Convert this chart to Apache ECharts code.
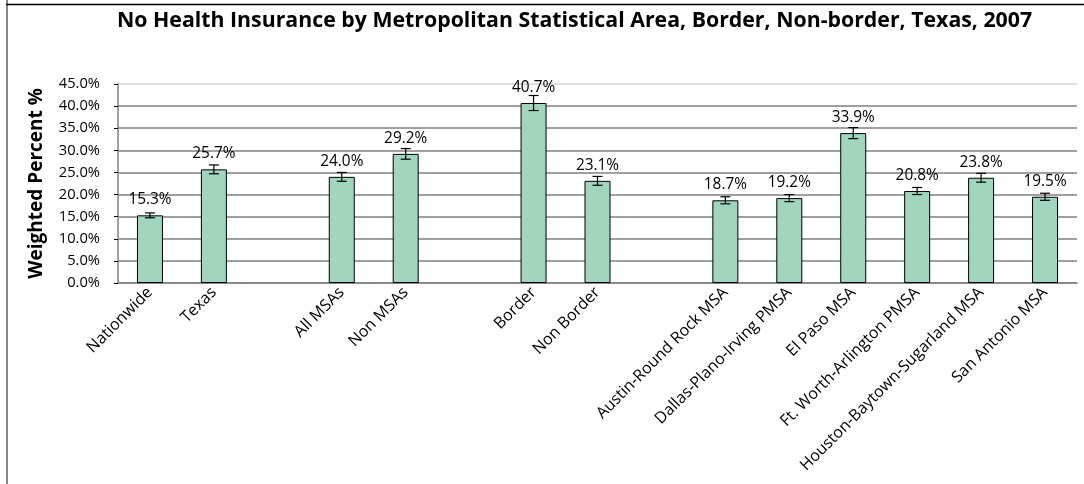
<!DOCTYPE html>
<html>
<head>
<meta charset="utf-8">
<script src="https://cdn.jsdelivr.net/npm/echarts@6/dist/echarts.min.js"></script>
<style>
  html, body { margin: 0; padding: 0; background: #fff; }
  #main { width: 1084px; height: 484px; }
</style>
</head>
<body>
<div id="main"></div>
<script>
// categories, blanks are the gaps between groups
const categories = [
  'Nationwide', 'Texas', '',
  'All MSAs', 'Non MSAs', '',
  'Border', 'Non Border', '',
  'Austin-Round Rock MSA', 'Dallas-Plano-Irving PMSA', 'El Paso MSA',
  'Ft. Worth-Arlington PMSA', 'Houston-Baytown-Sugarland MSA', 'San Antonio MSA'
]
const percents = [15.3, 25.7, null, 24.0, 29.2, null, 40.7, 23.1, null, 18.7, 19.2, 33.9, 20.8, 23.8, 19.5]
// half width of the error bars (percent points)
const errors = [0.55, 1.0, null, 1.0, 1.2, null, 1.7, 1.0, null, 0.8, 0.8, 1.25, 0.8, 1.0, 0.8]
const yTicks = { min: 0, max: 45, interval: 5 }

const font = '"Open Sans", sans-serif'
const chart = echarts.init(document.getElementById('main'))

const errData = percents.map((v, i) => v == null ? null : [i, v - errors[i], v + errors[i]]).filter(d => d)
// gridlines are grey, the top one is lighter
const gridColors = []
for (let v = yTicks.min; v < yTicks.max; v += yTicks.interval) gridColors.push('#808080')
gridColors.push('#d4d4d4')

chart.setOption({
  animation: false,
  textStyle: { fontFamily: font },
  graphic: [
    { type: 'line', shape: { x1: 7, y1: 0, x2: 7, y2: 484 }, style: { stroke: '#888', lineWidth: 2 } },
    { type: 'line', shape: { x1: 6, y1: 4.5, x2: 1084, y2: 4.5 }, style: { stroke: '#000', lineWidth: 1.5 } },
    {
      type: 'text', left: 117, top: 10,
      style: {
        text: 'No Health Insurance by Metropolitan Statistical Area, Border, Non-border, Texas, 2007',
        font: 'bold 21.3px ' + font, fill: '#000'
      }
    }
  ],
  grid: { left: 118, right: 7, top: 84, bottom: 201, containLabel: false },
  xAxis: {
    type: 'category',
    data: categories,
    axisLine: { lineStyle: { color: '#808080', width: 1.5 } },
    axisTick: { length: 4, lineStyle: { color: '#000' } },
    axisLabel: { rotate: 45, interval: 0, fontSize: 16, color: '#000', margin: 7 }
  },
  yAxis: {
    type: 'value',
    min: yTicks.min, max: yTicks.max, interval: yTicks.interval,
    name: 'Weighted Percent %',
    nameLocation: 'middle',
    nameGap: 72,
    nameTextStyle: { fontSize: 19, fontWeight: 'bold', color: '#000' },
    axisLine: { show: true, lineStyle: { color: '#808080', width: 1.5 } },
    axisTick: { show: true, length: 4, lineStyle: { color: '#000' } },
    axisLabel: { fontSize: 14.7, color: '#000', margin: 18, formatter: v => v.toFixed(1) + '%' },
    splitLine: { lineStyle: { color: gridColors, width: 1.5 } }
  },
  series: [
    {
      type: 'bar',
      data: percents,
      barWidth: 26,
      itemStyle: { color: '#a0d6bd', borderColor: '#000', borderWidth: 1 },
      label: {
        show: true, position: 'top', distance: 8, fontSize: 15.4, color: '#000',
        formatter: p => p.value.toFixed(1) + '%'
      }
    },
    {
      type: 'custom',
      data: errData,
      z: 10,
      renderItem: function (params, api) {
        const x = api.value(0)
        const lo = api.coord([x, api.value(1)])
        const hi = api.coord([x, api.value(2)])
        const cap = 5
        const st = { stroke: '#000', lineWidth: 1.2 }
        return {
          type: 'group',
          children: [
            { type: 'line', shape: { x1: lo[0], y1: lo[1], x2: hi[0], y2: hi[1] }, style: st },
            { type: 'line', shape: { x1: lo[0] - cap, y1: lo[1], x2: lo[0] + cap, y2: lo[1] }, style: st },
            { type: 'line', shape: { x1: hi[0] - cap, y1: hi[1], x2: hi[0] + cap, y2: hi[1] }, style: st }
          ]
        }
      }
    }
  ]
})
</script>
</body>
</html>
